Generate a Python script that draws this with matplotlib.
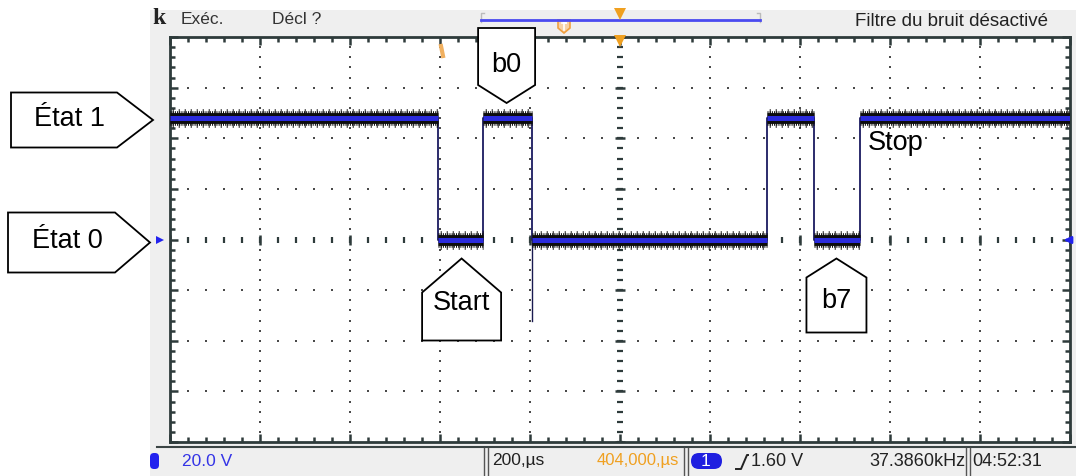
import numpy as np
import matplotlib.pyplot as plt
from matplotlib.patches import Polygon, Rectangle, FancyBboxPatch

# scope settings: 200 us/div, 20 V/div, 10 x 8 divisions
t_div = 200.0
v_div = 20.0
n_tdiv = 10
n_vdiv = 8

# UART frame (us, V)
edge_t = [596, 696, 804, 1327, 1431, 1533]
levels = [48.0, 0.0, 48.0, 0.0, 48.0, 0.0, 48.0]
glitch_t = 804
glitch_v = -32.0

# callouts: label, anchor time, anchor level
callout_labels = ['État 1', 'État 0', 'b0', 'Start', 'b7']
callout_t = [0, 0, 748, 648, 1481]
callout_v = [48.0, 0.0, 48.0, 0.0, 0.0]

# status bar texts
top_texts = ['Exéc.', 'Décl ?', 'Filtre du bruit désactivé']
bottom_texts = ['20.0 V', '200,µs', '404,000,µs', '1.60 V', '37.3860kHz', '04:52:31']

t_max = t_div * n_tdiv
v_max = v_div * n_vdiv / 2

fig = plt.figure(figsize=(10.76, 4.76), dpi=100)

# background (status bars)
bg = fig.add_axes([0, 0, 1, 1], zorder=0)
bg.set_xlim(0, 1076)
bg.set_ylim(476, 0)
bg.axis('off')
bg.add_patch(Rectangle((150, 10), 926, 466, color='#efefef', lw=0))
bg.plot([157, 1076], [446.5, 446.5], color='#3a4444', lw=1.5)

# graticule
ax = fig.add_axes([170 / 1076, (476 - 442) / 476, 900 / 1076, 405 / 476], zorder=1)
ax.set_xlim(0, t_max)
ax.set_ylim(-v_max, v_max)
ax.set_facecolor('white')
for s in ax.spines.values():
    s.set_color('#2e3b3b')
    s.set_linewidth(2)
ax.set_xticks(np.arange(0, t_max + 1, t_div))
ax.set_xticks(np.arange(0, t_max + 1, t_div / 5), minor=True)
ax.set_yticks(np.arange(-v_max, v_max + 1, v_div))
ax.set_yticks(np.arange(-v_max, v_max + 1, v_div / 5), minor=True)
ax.tick_params(which='both', direction='in', top=True, right=True,
               labelbottom=False, labelleft=False, color='#2e3b3b', width=1.8)
ax.tick_params(which='major', length=6)
ax.tick_params(which='minor', length=3.5)

dot = dict(ls='none', marker='s', ms=1.5, mew=0, color='#4a4a4a', zorder=1)
v_minor = np.arange(-v_max, v_max + 1, v_div / 5)
t_minor = np.arange(0, t_max + 1, t_div / 5)
for t in np.arange(t_div, t_max, t_div):
    if t != t_max / 2:
        ax.plot(np.full_like(v_minor, t), v_minor, **dot)
for v in np.arange(-v_max + v_div, v_max, v_div):
    if v != 0:
        ax.plot(t_minor, np.full_like(t_minor, v), **dot)
# centre axes with small ticks
ax.plot(np.full_like(v_minor, t_max / 2), v_minor, ls='none', marker='_', ms=4.5, mew=1.6, color='#2e3b3b', zorder=1)
ax.plot(np.full(9, t_max / 2), np.arange(-v_max, v_max + 1, v_div), ls='none', marker='_', ms=7, mew=1.8, color='#2e3b3b', zorder=1)
ax.plot(t_minor, np.zeros_like(t_minor), ls='none', marker='|', ms=4.5, mew=1.6, color='#2e3b3b', zorder=1)
ax.plot(np.arange(0, t_max + 1, t_div), np.zeros(11), ls='none', marker='|', ms=7, mew=1.8, color='#2e3b3b', zorder=1)

# trace: thin edges, fuzzy black band and blue core on the flat parts
bounds = [0] + edge_t + [t_max]
ts, vs = [0], [levels[0]]
for i, e in enumerate(edge_t):
    ts += [e, e]
    vs += [levels[i], levels[i + 1]]
ts.append(t_max)
vs.append(levels[-1])
ax.plot([glitch_t, glitch_t], [levels[3], glitch_v], color='#1a1a50', lw=1.0, zorder=3)
ax.plot(ts, vs, color='#1a1a60', lw=1.3, zorder=3)
for i in range(len(levels)):
    seg_t = [bounds[i], bounds[i + 1]]
    ax.plot(seg_t, [levels[i]] * 2, color='#0d0d0d', lw=7.8, solid_capstyle='butt', zorder=4)
    ax.plot(seg_t, [levels[i]] * 2, color='#0d0d0d', lw=10.5, ls=(0, (0.07, 0.08)), dash_capstyle='butt', zorder=4)
    ax.plot(seg_t, [levels[i]] * 2, color='#0d0d0d', lw=13.5, ls=(0.2, (0.05, 0.27)), dash_capstyle='butt', zorder=4)
    ax.plot(seg_t, [levels[i]] * 2, color='#2b2bdc', lw=3.6, solid_capstyle='butt', zorder=5)

# overlay for chrome and callouts
ov = fig.add_axes([0, 0, 1, 1], zorder=2)
ov.set_xlim(0, 1076)
ov.set_ylim(476, 0)
ov.axis('off')
ov.patch.set_alpha(0)


def to_px(t, v):
    return ov.transData.inverted().transform(ax.transData.transform((t, v)))


ui = dict(family=['Liberation Sans', 'DejaVu Sans'], va='center')

# top bar
ov.text(152, 18, 'k', family='Liberation Serif', fontweight='bold', fontsize=17, va='center', color='#222222')
ov.text(181, 20, top_texts[0], color='#333333', fontsize=12.5, **ui)
ov.text(272, 20, top_texts[1], color='#333333', fontsize=12.5, **ui)
ov.text(1048, 21, top_texts[2], color='#222222', ha='right', fontsize=13.5, **ui)
ov.plot([481, 481, 484], [22, 13, 13], color='#bbbbbb', lw=1)
ov.plot([757, 760, 760], [13, 13, 22], color='#bbbbbb', lw=1)
ov.plot([481, 760], [20, 20], color='#4a4af0', lw=2)
ov.add_patch(Polygon([[558, 20], [570, 20], [570, 28], [564, 33], [558, 28]], closed=True,
                     fc='#f6d2a8', ec='#f0a040', lw=1.2))
ov.plot([562, 566, 564, 564], [23, 23, 23, 30], color='white', lw=1.2)
ov.plot([620], [14], marker='v', ms=8, color='#f0a020', mew=0)
ov.plot([620], [41], marker='v', ms=8, color='#f0a020', mew=0)
ov.plot([441, 443], [46, 56], color='#f0b060', lw=3)

# channel markers
ov.plot([160], [240], marker='>', ms=6, color='#2222ee', mew=0)
ov.annotate('', xy=(1061, 240), xytext=(1071, 240),
            arrowprops=dict(arrowstyle='-|>', color='#2222ee', lw=1.8, mutation_scale=10))

# bottom bar
ov.add_patch(FancyBboxPatch((150, 453), 9, 16, boxstyle='round,pad=0,rounding_size=4', color='#2222ee', lw=0))
ov.text(182, 461, bottom_texts[0], color='#3434e6', fontsize=12.5, **ui)
ov.text(492, 461, bottom_texts[1], color='#222222', fontsize=12.5, **ui)
ov.text(679, 461, bottom_texts[2], color='#f0a020', ha='right', fontsize=12, **ui)
ov.add_patch(FancyBboxPatch((691, 453), 31, 16, boxstyle='round,pad=0,rounding_size=8', color='#1f1fe0', lw=0))
ov.text(706, 461, '1', color='white', ha='center', fontsize=12.5, **ui)
ov.plot([736, 741, 747, 748], [469, 469, 455, 455], color='#222222', lw=1.4)
ov.text(751, 461, bottom_texts[3], color='#222222', fontsize=13, **ui)
ov.text(965, 461, bottom_texts[4], color='#222222', ha='right', fontsize=13, **ui)
ov.text(972, 461, bottom_texts[5], color='#222222', fontsize=13, **ui)
for xs in [486, 686, 968]:
    ov.plot([xs - 2, xs - 2], [448, 476], color='#555555', lw=1)
    ov.plot([xs + 2, xs + 2], [448, 476], color='#555555', lw=1)


# callouts (pentagon boxes)
def pentagon(tip, direction, width, body, point):
    x, y = tip
    h = width / 2
    if direction == 'right':
        return [[x, y], [x - point, y - h], [x - point - body, y - h], [x - point - body, y + h], [x - point, y + h]]
    if direction == 'down':
        return [[x, y], [x - h, y - point], [x - h, y - point - body], [x + h, y - point - body], [x + h, y - point]]
    return [[x, y], [x - h, y + point], [x - h, y + point + body], [x + h, y + point + body], [x + h, y + point]]


# (direction, tip offset px, width, body, point, text offset px)
shapes = [('right', (-17, 2), 55, 106, 36, (-83, -1)),
          ('right', (-20, 3), 60, 107, 35, (-83, -2)),
          ('down', (0, -15), 57, 57, 18, (0, -38)),
          ('up', (0, 19), 79, 48, 34, (0, 44)),
          ('up', (0, 19), 60, 55, 19, (0, 42))]
for lab, t, v, (d, off, w, b, p, toff) in zip(callout_labels, callout_t, callout_v, shapes):
    px, py = to_px(t, v)
    tip = (px + off[0], py + off[1])
    ov.add_patch(Polygon(pentagon(tip, d, w, b, p), closed=True, fc='white', ec='black', lw=1.3, zorder=5))
    ov.text(tip[0] + toff[0], tip[1] + toff[1], lab, family='Liberation Sans', fontsize=19.5,
            ha='center', va='center', zorder=6)

sx, sy = to_px(edge_t[-1], levels[-1])
ov.text(sx + 8, sy + 25, 'Stop', family='Liberation Sans', fontsize=19.5, va='center', zorder=6)

fig.savefig('out.png', dpi=100)
